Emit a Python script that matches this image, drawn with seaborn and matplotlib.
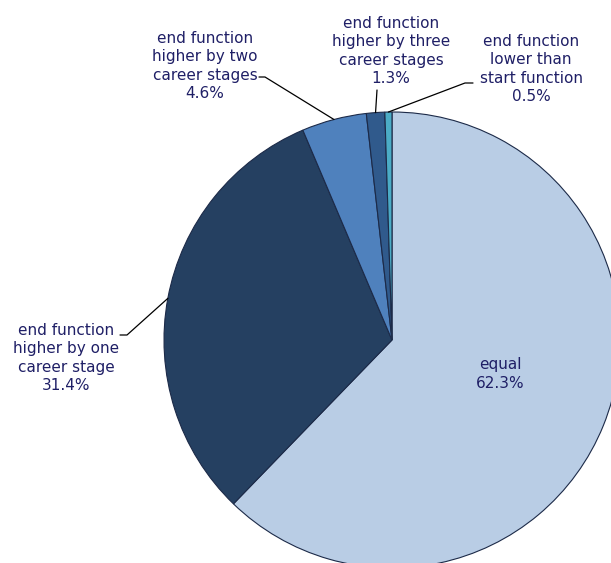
import numpy as np
import matplotlib
matplotlib.use('Agg')
import matplotlib.pyplot as plt
import seaborn as sns

# data
categories = ['equal',
              'end function\nhigher by one\ncareer stage',
              'end function\nhigher by two\ncareer stages',
              'end function\nhigher by three\ncareer stages',
              'end function\nlower than\nstart function']
shares = [62.3, 31.4, 4.6, 1.3, 0.5]
slice_colors = ['#B9CDE5', '#254061', '#4F81BD', '#305A8C', '#4BACC6']

sns.set_style('white')
plt.rcParams['font.family'] = ['DejaVu Sans']

text_color = '#1f1f66'
W, H = 611, 563
cx, cy, r = 392, 340, 228  # pie centre / radius in pixels


def px(x, y):
    '''pixel position -> data coords (pie radius = 1)'''
    return (x - cx) / r, (cy - y) / r


fig = plt.figure(figsize=(W / 100, H / 100), dpi=100)
ax = fig.add_axes([0, 0, 1, 1])
wedges, _ = ax.pie(shares, colors=slice_colors, startangle=90, counterclock=False,
                   radius=1, wedgeprops=dict(edgecolor='#1c2a48', linewidth=0.8))
ax.set_xlim(-cx / r, (W - cx) / r)
ax.set_ylim(-(H - cy) / r, cy / r)
ax.set_aspect('auto')
ax.axis('off')

# label layout: text centre, leader end, leader elbow (pixels)
layout = [
    ((500, 374), None, None),
    ((66, 358), (127, 335), (120, 335)),
    ((205, 66), (265, 77), (259, 77)),
    ((391, 51), (377, 90), None),
    ((531, 69), (465, 83), (473, 83)),
]

for w, cat, val, (tc, end, elbow) in zip(wedges, categories, shares, layout):
    tx, ty = px(*tc)
    ax.text(tx, ty, f'{cat}\n{val:.1f}%', ha='center', va='center',
            fontsize=11, color=text_color, linespacing=1.3)
    if end is None:
        continue
    mid = np.deg2rad((w.theta1 + w.theta2) / 2)
    pts = [(np.cos(mid), np.sin(mid)), px(*end)]
    if elbow is not None:
        pts.append(px(*elbow))
    xs, ys = zip(*pts)
    ax.plot(xs, ys, color='black', linewidth=0.9)

fig.savefig('out.png', dpi=100)
